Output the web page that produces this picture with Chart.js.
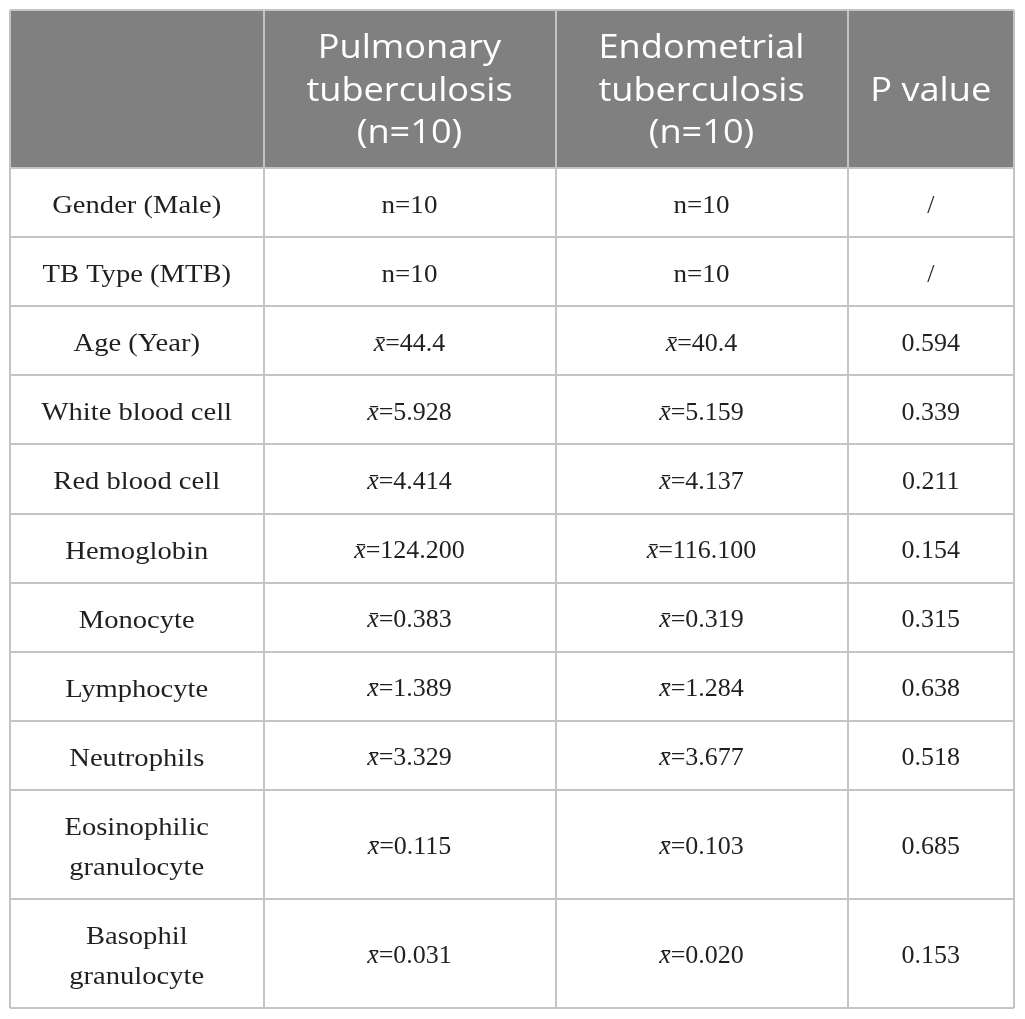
<!DOCTYPE html>
<html>
<head>
<meta charset="utf-8">
<script src="https://cdn.jsdelivr.net/npm/chart.js@4"></script>
<style>
  html, body { margin: 0; padding: 0; background: #fff; }
  #wrap { width: 1025px; height: 1019px; }
</style>
</head>
<body>
<div id="wrap"><canvas id="table" width="1025" height="1019"></canvas></div>
<script>
// Table content
const columnTitles = ['', 'Pulmonary\ntuberculosis\n(n=10)', 'Endometrial\ntuberculosis\n(n=10)', 'P value'];
const variables = [
    'Gender (Male)', 'TB Type (MTB)', 'Age (Year)', 'White blood cell', 'Red blood cell',
    'Hemoglobin', 'Monocyte', 'Lymphocyte', 'Neutrophils',
    'Eosinophilic\ngranulocyte', 'Basophil\ngranulocyte'
];
const pulmonaryCount = [10, 10];
const endometrialCount = [10, 10];
const pulmonaryMean = [44.4, 5.928, 4.414, 124.2, 0.383, 1.389, 3.329, 0.115, 0.031];
const endometrialMean = [40.4, 5.159, 4.137, 116.1, 0.319, 1.284, 3.677, 0.103, 0.020];
const meanDecimals = [1, 3, 3, 3, 3, 3, 3, 3, 3];
const pValues = ['/', '/', 0.594, 0.339, 0.211, 0.154, 0.315, 0.638, 0.518, 0.685, 0.153];

// Layout (table units = px)
const colEdges = [0, 253.5, 545.5, 837.5, 1004];
const headerHeight = 158;
const rowHeight = 69.1;
const extraLine = 39.9;

const headerBg = '#7f807f';
const lineColor = '#c4c4c4';
const bodyFont = '"Liberation Serif", "Times New Roman", serif';
const headFont = '"Open Sans", "Noto Sans", sans-serif';

// text styles: size, line gap, baseline offset from cell centre, horizontal stretch
const headStyle = { size: 32, gap: 42.5, shift: 11.5, stretch: 1.13, color: '#ffffff', family: headFont };
const labelStyle = { size: 26, gap: 39.5, shift: 10.5, stretch: 1.1, color: '#231f20', family: bodyFont };
const valueStyle = { size: 26, gap: 39.5, shift: 10, stretch: 1.0, color: '#231f20', family: bodyFont };

const rowEdges = [0, headerHeight];
variables.forEach(v => {
    const lines = v.split('\n').length;
    rowEdges.push(rowEdges[rowEdges.length - 1] + rowHeight + (lines - 1) * extraLine);
});
const rowCenter = i => (rowEdges[i + 1] + rowEdges[i + 2]) / 2;
const colCenter = c => (colEdges[c] + colEdges[c + 1]) / 2;

const meanCell = (v, d) => [{ text: 'x\u0304', italic: true }, { text: '=' + v.toFixed(d) }];
const countCell = n => [{ text: 'n=' + n, stretch: 1.04 }];

function columnCells(counts, means) {
    return variables.map((_, i) => i < counts.length ? countCell(counts[i]) : meanCell(means[i - counts.length], meanDecimals[i - counts.length]));
}

const bodyColumns = [
    variables.map(v => v.split('\n').map(t => [{ text: t }])),
    columnCells(pulmonaryCount, pulmonaryMean).map(c => [c]),
    columnCells(endometrialCount, endometrialMean).map(c => [c]),
    pValues.map(p => [[{ text: typeof p === 'number' ? p.toFixed(3) : p }]])
];

const datasets = [{
    label: 'header',
    textStyle: headStyle,
    data: columnTitles.map((t, c) => ({ x: colCenter(c), y: headerHeight / 2, lines: t ? t.split('\n').map(s => [{ text: s }]) : [] })),
    pointRadius: 0
}].concat(bodyColumns.map((col, c) => ({
    label: 'col' + c,
    textStyle: c === 0 ? labelStyle : valueStyle,
    data: col.map((lines, i) => ({ x: colCenter(c), y: rowCenter(i), lines: lines })),
    pointRadius: 0
})));

const cellText = {
    id: 'cellText',
    beforeDraw(chart) {
        const { ctx, scales: { x, y } } = chart;
        ctx.save();
        ctx.fillStyle = headerBg;
        const top = y.getPixelForValue(0), bot = y.getPixelForValue(headerHeight);
        const left = x.getPixelForValue(0), right = x.getPixelForValue(colEdges[colEdges.length - 1]);
        ctx.fillRect(left, top, right - left, bot - top);
        ctx.restore();
    },
    afterDatasetsDraw(chart) {
        const ctx = chart.ctx;
        ctx.save();
        ctx.textBaseline = 'alphabetic';
        ctx.textAlign = 'left';
        chart.data.datasets.forEach((ds, di) => {
            const meta = chart.getDatasetMeta(di);
            const st = ds.textStyle;
            ctx.fillStyle = st.color;
            const fontOf = p => (p.italic ? 'italic ' : '') + st.size + 'px ' + st.family;
            const stretchOf = p => p.stretch !== undefined ? p.stretch : st.stretch;
            meta.data.forEach((pt, i) => {
                const lines = ds.data[i].lines;
                lines.forEach((parts, li) => {
                    const yy = pt.y + st.shift + (li - (lines.length - 1) / 2) * st.gap;
                    const widths = parts.map(p => { ctx.font = fontOf(p); return ctx.measureText(p.text).width * stretchOf(p); });
                    let xx = pt.x - widths.reduce((a, b) => a + b, 0) / 2;
                    parts.forEach((p, k) => {
                        ctx.save();
                        ctx.font = fontOf(p);
                        ctx.translate(xx, yy);
                        ctx.scale(stretchOf(p), 1);
                        ctx.fillText(p.text, 0, 0);
                        ctx.restore();
                        xx += widths[k];
                    });
                });
            });
        });
        ctx.restore();
    }
};

const gridScale = (max, edges, reverse) => ({
    type: 'linear',
    min: 0,
    max: max,
    reverse: reverse,
    afterBuildTicks: s => { s.ticks = edges.map(v => ({ value: v })); },
    ticks: { display: false },
    grid: { color: lineColor, lineWidth: 2, drawTicks: false },
    border: { display: false }
});

new Chart(document.getElementById('table'), {
    type: 'scatter',
    data: { datasets: datasets },
    options: {
        responsive: false,
        animation: false,
        events: [],
        layout: { padding: { left: 10, top: 10, right: 11, bottom: 11 } },
        plugins: { legend: { display: false }, tooltip: { enabled: false } },
        scales: {
            x: gridScale(colEdges[colEdges.length - 1], colEdges, false),
            y: gridScale(rowEdges[rowEdges.length - 1], rowEdges, true)
        }
    },
    plugins: [cellText]
});
</script>
</body>
</html>
